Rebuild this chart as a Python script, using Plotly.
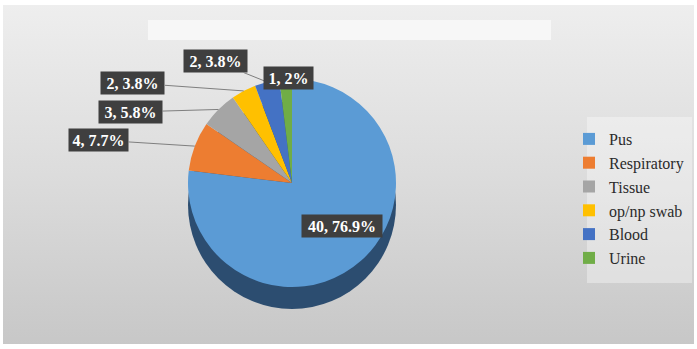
import plotly.graph_objects as go
import math

# ---- data ----
categories = ["Pus", "Respiratory", "Tissue", "op/np swab", "Blood", "Urine"]
counts = [40, 4, 3, 2, 2, 1]
pct_labels = ["76.9%", "7.7%", "5.8%", "3.8%", "3.8%", "2%"]
colors = ["#5b9bd5", "#ed7d31", "#a5a5a5", "#ffc000", "#4472c4", "#70ad47"]

SERIF = "'Liberation Serif', 'Times New Roman', serif"

# ---- layout geometry (pixels) ----
W, H = 697, 349
cx, cy, r = 292, 183, 104
depth = 22

def px2paper(px, py):
    return px / W, 1 - py / H

fig = go.Figure()

# background gradient panel (hidden axes spanning the inner area)
fig.add_trace(go.Scatter(
    x=[-10, 710, 710, -10, -10], y=[-10, -10, 360, 360, -10],
    mode="lines", line=dict(width=0), fill="toself",
    fillgradient=dict(type="vertical",
                      colorscale=[[0, "#c6c6c6"], [0.5, "#dcdcdc"], [1, "#efefef"]]),
    hoverinfo="skip", showlegend=False))

# pie side (depth)
fig.add_trace(go.Pie(
    labels=["side"], values=[sum(counts)],
    marker=dict(colors=["#2c4d70"], line=dict(width=0)),
    textinfo="none", hoverinfo="skip", showlegend=False, sort=False,
    domain=dict(x=[(cx - r) / W, (cx + r) / W],
                y=[1 - (cy + depth + r) / H, 1 - (cy + depth - r) / H])))

# pie top
fig.add_trace(go.Pie(
    labels=categories, values=counts,
    marker=dict(colors=colors, line=dict(width=0)),
    textinfo="none", direction="clockwise", rotation=0, sort=False,
    domain=dict(x=[(cx - r) / W, (cx + r) / W],
                y=[1 - (cy + r) / H, 1 - (cy - r) / H])))

# data label boxes: (centre x, centre y, width, show leader)
label_boxes = [
    (342, 226, 80, False),
    (98, 140, 59, True),
    (130, 112, 63, True),
    (133, 83, 63, True),
    (215, 61, 63, True),
    (288, 66, 49, False),
]

total = sum(counts)
cum = 0
annotations = []
for i, (c, p) in enumerate(zip(counts, pct_labels)):
    mid = (cum + c / 2) / total * 2 * math.pi
    cum += c
    bx, by, bw, lead = label_boxes[i]
    text = f"<b>{c}, {p}</b>"
    common = dict(text=text, xref="paper", yref="paper",
                  font=dict(family=SERIF, size=16, color="white"),
                  bgcolor="#3f3f3f", borderpad=0, width=bw, height=22)
    if lead:
        ax_pt = cx + r * math.sin(mid)
        ay_pt = cy - r * math.cos(mid)
        xp, yp = px2paper(ax_pt, ay_pt)
        annotations.append(dict(x=xp, y=yp, showarrow=True, arrowhead=0,
                                arrowwidth=1, arrowcolor="#7f7f7f", standoff=0,
                                axref="pixel", ayref="pixel",
                                ax=bx - ax_pt, ay=by - ay_pt, **common))
    else:
        xp, yp = px2paper(bx, by)
        annotations.append(dict(x=xp, y=yp, showarrow=False, **common))

fig.update_layout(
    width=W, height=H,
    margin=dict(l=0, r=0, t=0, b=0),
    paper_bgcolor="white",
    plot_bgcolor="rgba(0,0,0,0)",
    font=dict(family=SERIF),
    xaxis=dict(range=[0, W], domain=[3 / W, 694 / W], visible=False, fixedrange=True),
    yaxis=dict(range=[H, 0], domain=[5 / H, 344 / H], visible=False, fixedrange=True),
    showlegend=True,
    legend=dict(x=569 / W, y=1 - 122 / H, xanchor="left", yanchor="top",
                bgcolor="rgba(0,0,0,0)",
                font=dict(family=SERIF, size=16, color="#2b2b2b"),
                itemwidth=30, traceorder="normal"),
    annotations=annotations,
    shapes=[
        dict(type="rect", xref="paper", yref="paper", layer="above",
             x0=148 / W, x1=551 / W, y0=1 - 40 / H, y1=1 - 20 / H,
             fillcolor="#f7f7f7", line=dict(width=0)),
        dict(type="rect", xref="paper", yref="paper", layer="above",
             x0=587 / W, x1=692 / W, y0=1 - 283 / H, y1=1 - 117 / H,
             fillcolor="rgba(255,255,255,0.35)", line=dict(width=0)),
    ],
)

fig.write_html("out.html")
